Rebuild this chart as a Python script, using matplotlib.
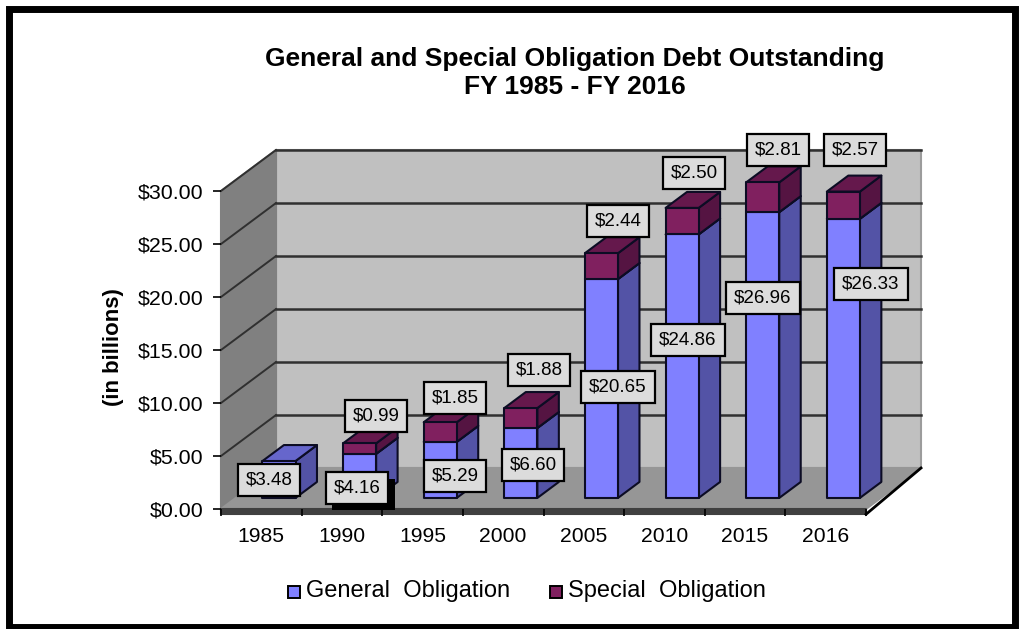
import numpy as np
import matplotlib
matplotlib.use('Agg')
import matplotlib.pyplot as plt
from matplotlib.patches import Polygon, Rectangle

plt.rcParams['font.family'] = ['Liberation Sans', 'DejaVu Sans']

years = ['1985', '1990', '1995', '2000', '2005', '2010', '2015', '2016']
general = [3.48, 4.16, 5.29, 6.60, 20.65, 24.86, 26.96, 26.33]
special = [0.0, 0.99, 1.85, 1.88, 2.44, 2.50, 2.81, 2.57]
y_ticks = [0, 5, 10, 15, 20, 25, 30]

# depth of the fake 3d box, in x categories and dollars
DX = 55 / 80.6
DY = 41 / 10.6
BAR_X = 0.33
BAR_W = 0.41
D0 = 0.27
D1 = 0.66
EDGE = '#0c0c24'


def proj(x, y, d):
    return (x + d * DX, y + d * DY)


def poly(ax, pts, color, edge=None, lw=1.5, z=2):
    p = Polygon(pts, closed=True, facecolor=color, edgecolor=edge if edge else color,
                lw=lw, clip_on=False, zorder=z, joinstyle='round')
    ax.add_patch(p)


def box(ax, x0, x1, y0, y1, front, side, top, z):
    # front, side, then the lid
    poly(ax, [proj(x1, y0, D0), proj(x1, y0, D1), proj(x1, y1, D1), proj(x1, y1, D0)], side, EDGE, z=z)
    poly(ax, [proj(x0, y1, D0), proj(x1, y1, D0), proj(x1, y1, D1), proj(x0, y1, D1)], top, EDGE, z=z)
    poly(ax, [proj(x0, y0, D0), proj(x1, y0, D0), proj(x1, y1, D0), proj(x0, y1, D0)], front, EDGE, z=z + 0.1)


def put_label(fig, px, py, value):
    fig.text(px / 1026, 1 - py / 629, '$%.2f' % value, ha='center', va='center', fontsize=13.5,
             bbox=dict(boxstyle='square,pad=0.42', facecolor='#dcdcdc', edgecolor='black', lw=1.6), zorder=30)


fig = plt.figure(figsize=(10.26, 6.29), dpi=100)
fig.add_artist(Rectangle((9 / 1026, 1 - 627 / 629), 1006 / 1026, 618.5 / 629, transform=fig.transFigure,
                         facecolor='white', edgecolor='black', lw=5, zorder=-1))
ax = fig.add_axes([221 / 1026, (629 - 509) / 629, 645 / 1026, 318 / 629])
ax.set_xlim(0, 8)
ax.set_ylim(0, 30)
ax.patch.set_visible(False)

n = len(years)
# walls and floor
poly(ax, [proj(0, 0, 1), proj(n, 0, 1), proj(n, 30, 1), proj(0, 30, 1)], '#c0c0c0', '#9c9c9c', z=0.5)
poly(ax, [(0, 0), proj(0, 0, 1), proj(0, 30, 1), (0, 30)], '#808080', '#808080', z=0.6)
poly(ax, [(0, 0), (n, 0), proj(n, 0, 1), proj(0, 0, 1)], '#969696', '#969696', z=0.7)
poly(ax, [(0, 0), (n, 0), (n, -0.5), (0, -0.5)], '#404040', '#404040', z=0.8)
ax.plot([n, proj(n, 0, 1)[0]], [-0.5, proj(n, 0, 1)[1]], color='black', lw=2, clip_on=False, zorder=1)

for t in y_ticks[1:]:
    xs = [0, proj(0, t, 1)[0], proj(n, t, 1)[0]]
    ys = [t, proj(0, t, 1)[1], proj(n, t, 1)[1]]
    ax.plot(xs[:2], ys[:2], color='#303030', lw=1.4, clip_on=False, zorder=1)
    ax.plot(xs[1:], ys[1:], color='#303030', lw=1.8, clip_on=False, zorder=1)

for i in range(n):
    x0 = i + BAR_X
    x1 = x0 + BAR_W
    box(ax, x0, x1, 0, general[i], '#8080ff', '#5353a6', '#6666cc', 2 + i)
    if special[i] > 0:
        box(ax, x0, x1, general[i], general[i] + special[i], '#80205f', '#551442', '#65184c', 2.3 + i)

# black blob behind the 1990 label
ax.add_patch(Rectangle((1 + 0.38, -0.1), 0.78, 2.9, facecolor='black', edgecolor='none', zorder=3.5, clip_on=False))

# label centres in pixels
gen_px = [269, 357, 455, 533, 618, 688, 763, 871]
gen_py = [480, 488, 476, 465, 387, 340, 298, 284]
spec_px = [376, 455, 539, 618, 694, 778, 855]
spec_py = [416, 398, 370, 221, 173, 150, 150]
for i in range(n):
    put_label(fig, gen_px[i], gen_py[i], general[i])
for i in range(1, n):
    put_label(fig, spec_px[i - 1], spec_py[i - 1], special[i])

ax.set_yticks(y_ticks)
ax.set_yticklabels(['$%.2f' % t for t in y_ticks], fontsize=15.4)
ax.set_xticks(np.arange(n + 1))
ax.set_xticklabels([])
ax.set_xticks(np.arange(n) + 0.5, minor=True)
ax.set_xticklabels(years, minor=True, fontsize=15.2)
ax.tick_params(axis='x', which='minor', length=0, pad=13)
ax.tick_params(axis='x', which='major', length=5, width=1.2, pad=0)
ax.tick_params(axis='y', length=5.5, width=1.2, pad=7)
for s in ax.spines.values():
    s.set_visible(False)
ax.set_ylabel('(in billions)', fontsize=16, fontweight='bold')
ax.yaxis.set_label_coords(-0.15, 0.509)

fig.text(575 / 1026, 1 - 73 / 629, 'General and Special Obligation Debt Outstanding\nFY 1985 - FY 2016',
         ha='center', va='center', fontsize=19, fontweight='bold', linespacing=1.22)

# legend
fig.add_artist(Rectangle((288 / 1026, 1 - 597.5 / 629), 12 / 1026, 12 / 629, transform=fig.transFigure,
                         facecolor='#8080ff', edgecolor='black', lw=1.4))
fig.text(306 / 1026, 1 - 591 / 629, 'General  Obligation', va='center', fontsize=17)
fig.add_artist(Rectangle((550 / 1026, 1 - 597.5 / 629), 12 / 1026, 12 / 629, transform=fig.transFigure,
                         facecolor='#80205f', edgecolor='black', lw=1.4))
fig.text(568 / 1026, 1 - 591 / 629, 'Special  Obligation', va='center', fontsize=17)

fig.savefig('out.png', dpi=100)
